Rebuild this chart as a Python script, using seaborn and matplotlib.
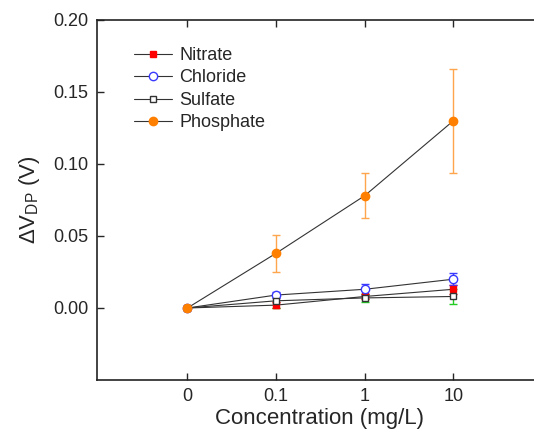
import matplotlib

matplotlib.use("Agg")
import matplotlib.pyplot as plt
import numpy as np
import pandas as pd
import seaborn as sns

# data
concentrations = ["0", "0.1", "1", "10"]
series_names = ["Nitrate", "Chloride", "Sulfate", "Phosphate"]
nitrate = [0.0, 0.002, 0.008, 0.013]
nitrate_err = [0.0, 0.002, 0.002, 0.003]
chloride = [0.0, 0.009, 0.013, 0.020]
chloride_err = [0.0, 0.002, 0.004, 0.004]
sulfate = [0.0, 0.005, 0.007, 0.008]
sulfate_err = [0.0, 0.005, 0.003, 0.005]
phosphate = [0.0, 0.038, 0.078, 0.130]
phosphate_err = [0.0, 0.013, 0.0155, 0.036]

styles = {
    "Nitrate": dict(marker="s", mfc="#ff0000", mec="#ff0000", ecolor="#ff0000", ms=5),
    "Chloride": dict(marker="o", mfc="white", mec="#3a3aff", ecolor="#3a3aff", ms=6),
    "Sulfate": dict(marker="s", mfc="white", mec="#333333", ecolor="#22cc22", ms=5),
    "Phosphate": dict(marker="o", mfc="#ff8000", mec="#ff8000", ecolor="#ffa54d", ms=6),
}

values = {"Nitrate": nitrate, "Chloride": chloride, "Sulfate": sulfate, "Phosphate": phosphate}
errors = {"Nitrate": nitrate_err, "Chloride": chloride_err, "Sulfate": sulfate_err, "Phosphate": phosphate_err}

rows = []
for name in series_names:
    for i, conc in enumerate(concentrations):
        rows.append({"series": name, "pos": i, "conc": conc, "value": values[name][i], "err": errors[name][i]})
df = pd.DataFrame(rows)

sns.set_style("ticks")
plt.rcParams["font.family"] = ["Liberation Sans", "DejaVu Sans"]
plt.rcParams["mathtext.default"] = "regular"

fig = plt.figure(figsize=(5.34, 4.36), dpi=100)
ax = fig.add_axes([97 / 534, 56 / 436, 445 / 534, 360 / 436])

for k, name in enumerate(series_names):
    sub = df[df["series"] == name]
    st = styles[name]
    ax.errorbar(sub["pos"], sub["value"], yerr=sub["err"], fmt="none", ecolor=st["ecolor"],
                elinewidth=1, capsize=3, capthick=1, zorder=2 + k * 0.1)
    sns.lineplot(x=sub["pos"], y=sub["value"], ax=ax, color="#333333", linewidth=0.8,
                 marker=st["marker"], markersize=st["ms"], markerfacecolor=st["mfc"],
                 markeredgecolor=st["mec"], markeredgewidth=1, errorbar=None, label=name,
                 zorder=3 + k * 0.1)

ax.set_xlim(-1.02, 4.0)
ax.set_ylim(-0.05, 0.20)
ax.set_xticks(range(len(concentrations)))
ax.set_xticklabels(concentrations)
ax.set_yticks(np.arange(0, 0.21, 0.05))
ax.yaxis.set_major_formatter(matplotlib.ticker.FormatStrFormatter("%.2f"))
ax.tick_params(direction="in", length=5, width=1, labelsize=13, top=True, right=True, pad=6)
for spine in ax.spines.values():
    spine.set_linewidth(1.2)
    spine.set_color("#222222")

ax.set_xlabel("Concentration (mg/L)", fontsize=16, labelpad=2)
ax.set_ylabel("ΔV$_{DP}$ (V)", fontsize=16, labelpad=8)

ax.legend(loc="upper left", bbox_to_anchor=(0.068, 0.945), frameon=False, fontsize=13,
          labelspacing=0.3, handlelength=2.1, handletextpad=0.4, borderaxespad=0)

fig.savefig("out.png", dpi=100)
